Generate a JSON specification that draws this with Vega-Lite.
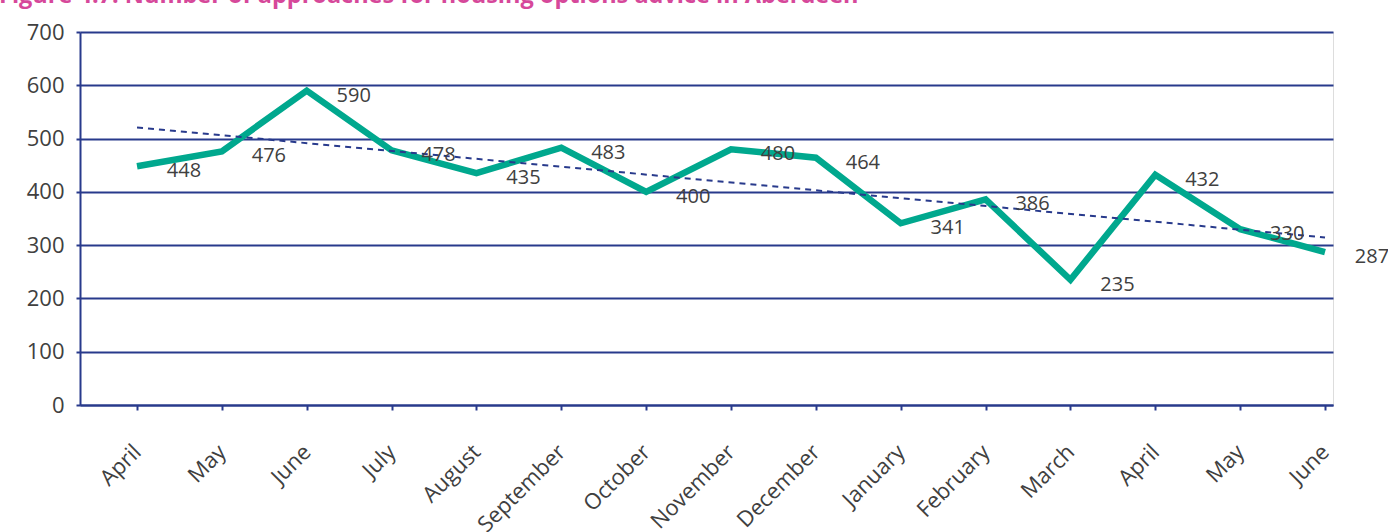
{
  "$schema": "https://vega.github.io/schema/vega-lite/v6.json",
  "autosize": "none",
  "width": 1253,
  "height": 373,
  "padding": {"left": 80, "top": 32, "right": 55, "bottom": 127},
  "background": "white",
  "title": {
    "text": "Figure 4.7: Number of approaches for housing options advice in Aberdeen",
    "anchor": "start",
    "frame": "group",
    "dx": -81,
    "offset": -5,
    "baseline": "alphabetic",
    "font": "Open Sans",
    "fontSize": 23.5,
    "fontWeight": "bold",
    "color": "#d6489a"
  },
  "data": {
    "values": [
      {"i": 0, "month": "April", "value": 448},
      {"i": 1, "month": "May", "value": 476},
      {"i": 2, "month": "June", "value": 590},
      {"i": 3, "month": "July", "value": 478},
      {"i": 4, "month": "August", "value": 435},
      {"i": 5, "month": "September", "value": 483},
      {"i": 6, "month": "October", "value": 400},
      {"i": 7, "month": "November", "value": 480},
      {"i": 8, "month": "December", "value": 464},
      {"i": 9, "month": "January", "value": 341},
      {"i": 10, "month": "February", "value": 386},
      {"i": 11, "month": "March", "value": 235},
      {"i": 12, "month": "April", "value": 432},
      {"i": 13, "month": "May", "value": 330},
      {"i": 14, "month": "June", "value": 287}
    ]
  },
  "encoding": {
    "x": {
      "field": "i",
      "type": "quantitative",
      "scale": {"domain": [-0.672, 14.094], "nice": false, "zero": false},
      "axis": {
        "title": null,
        "values": [0,1,2,3,4,5,6,7,8,9,10,11,12,13,14],
        "labelExpr": "['April','May','June','July','August','September','October','November','December','January','February','March','April','May','June'][datum.value]",
        "labelAngle": -45,
        "labelAlign": "right",
        "labelBaseline": "middle",
        "labelPadding": 38,
        "labelFont": "Open Sans",
        "labelFontSize": 22,
        "labelColor": "#404040",
        "labelOverlap": false,
        "labelFlush": false,
        "grid": false,
        "domainColor": "#283a8c",
        "domainWidth": 2,
        "tickColor": "#283a8c",
        "tickWidth": 2,
        "tickSize": 5
      }
    },
    "y": {
      "field": "value",
      "type": "quantitative",
      "scale": {"domain": [0, 700], "nice": false},
      "axis": {
        "title": null,
        "values": [0,100,200,300,400,500,600,700],
        "labelFont": "Open Sans",
        "labelFontSize": 22,
        "labelColor": "#404040",
        "labelPadding": 12,
        "grid": true,
        "gridColor": "#283a8c",
        "gridWidth": 2,
        "gridOpacity": 1,
        "domainColor": "#283a8c",
        "domainWidth": 2,
        "ticks": true,
        "tickColor": "#283a8c",
        "tickSize": 4,
        "tickWidth": 2
      }
    }
  },
  "layer": [
    {
      "mark": {"type": "line", "color": "#00a88e", "strokeWidth": 6.5, "strokeJoin": "miter", "strokeCap": "butt"}
    },
    {
      "transform": [{"regression": "value", "on": "i"}],
      "mark": {"type": "line", "color": "#283a8c", "strokeWidth": 2, "strokeDash": [6, 5]}
    },
    {
      "mark": {"type": "text", "dx": 47, "dy": 5, "font": "Open Sans", "fontSize": 20, "color": "#404040", "align": "center", "baseline": "middle"},
      "encoding": {"text": {"field": "value", "type": "quantitative"}}
    }
  ]
}
